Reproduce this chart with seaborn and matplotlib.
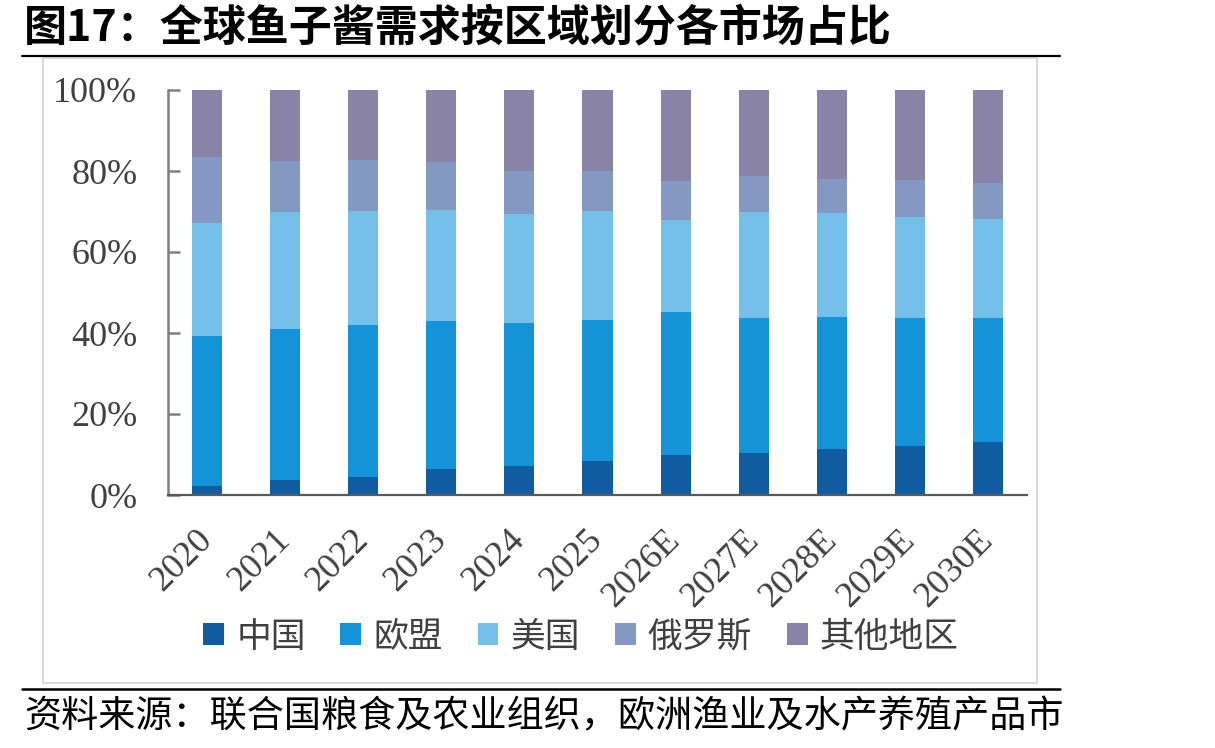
import matplotlib
matplotlib.use("Agg")
import matplotlib.pyplot as plt
from matplotlib.patches import Patch, Rectangle
from matplotlib.lines import Line2D
import numpy as np
import pandas as pd
import seaborn as sns

# ---- data (shares in %) ----
years = ["2020", "2021", "2022", "2023", "2024", "2025",
         "2026E", "2027E", "2028E", "2029E", "2030E"]
china = [2.2, 3.7, 4.4, 6.4, 7.2, 8.4, 9.9, 10.4, 11.4, 12.1, 13.1]
eu = [37.1, 37.3, 37.6, 36.6, 35.3, 34.8, 35.3, 33.3, 32.5, 31.6, 30.6]
usa = [27.9, 28.9, 28.1, 27.4, 26.9, 26.9, 22.7, 26.2, 25.7, 24.9, 24.4]
russia = [16.3, 12.6, 12.6, 11.8, 10.6, 9.9, 9.6, 8.9, 8.4, 9.2, 8.9]
others = [16.5, 17.5, 17.3, 17.8, 20.0, 20.0, 22.5, 21.2, 22.0, 22.2, 23.0]
series_names = ["中国", "欧盟", "美国", "俄罗斯", "其他地区"]
yticks = [0, 20, 40, 60, 80, 100]

title = "图17：全球鱼子酱需求按区域划分各市场占比"
source = "资料来源：联合国粮食及农业组织，欧洲渔业及水产养殖产品市"

colors = ["#105CA1", "#1593D8", "#74C0E8", "#8399C4", "#8983A8"]

sns.set_theme(style="white")
plt.rcParams["font.family"] = ["Liberation Serif", "Noto Sans CJK SC"]

W, H = 1215, 748
fig = plt.figure(figsize=(W / 100, H / 100), dpi=100)

def fx(px):
    return px / W

def fy(py):
    return 1 - py / H

ax = fig.add_axes([fx(168), fy(495), fx(1027) - fx(168), fy(90) - fy(495)])

values = [china, eu, usa, russia, others]
cum = np.cumsum(np.array(values), axis=0)
for i in range(len(series_names) - 1, -1, -1):
    d = pd.DataFrame({"year": years, "value": cum[i]})
    sns.barplot(data=d, x="year", y="value", color=colors[i], width=0.385,
                saturation=1, ax=ax, linewidth=0, errorbar=None)

ax.set_xlim(-0.5, len(years) - 0.5)
ax.set_ylim(0, 100)
ax.set_xlabel("")
ax.set_ylabel("")
ax.set_yticks(yticks)
ax.set_yticklabels([f"{v}%" for v in yticks], fontsize=26, color="#404040",
                   family="Liberation Serif")
ax.set_xticks(range(len(years)))
ax.set_xticklabels(years, fontsize=26, color="#404040", family="Liberation Serif",
                   rotation=45, ha="right", va="center", rotation_mode="anchor")
ax.set_xticks(np.arange(-0.5, len(years), 1.0), minor=True)
ax.tick_params(axis="x", which="major", length=0, pad=29)
ax.tick_params(axis="x", which="minor", direction="in", length=7, width=1.5,
               color="#595959")
ax.tick_params(axis="y", direction="in", length=8.5, width=1.8, color="#7f7f7f",
               pad=22, left=True)
for s in ["top", "right"]:
    ax.spines[s].set_visible(False)
ax.spines["left"].set_color("#7f7f7f")
ax.spines["left"].set_linewidth(1.8)
ax.spines["bottom"].set_color("#595959")
ax.spines["bottom"].set_linewidth(1.6)
ax.grid(False)

# legend
handles = [Patch(facecolor=c, edgecolor="none") for c in colors]
leg = fig.legend(handles, series_names, loc="center", ncol=5,
                 bbox_to_anchor=(fx(581), fy(637)), frameon=False,
                 prop={"family": ["Noto Sans CJK SC"], "size": 25},
                 handlelength=0.6, handleheight=0.6, handletextpad=0.35,
                 columnspacing=1.0)
for t in leg.get_texts():
    t.set_color("#404040")

# outer light frame
fig.add_artist(Rectangle((fx(43), fy(683)), fx(1037) - fx(43), fy(58) - fy(683),
                         transform=fig.transFigure, fill=False,
                         edgecolor="#D9D9D9", linewidth=1.5))
# title, rules, source
fig.text(fx(24), fy(27), title, fontsize=31, fontweight="bold",
         family=["Noto Sans CJK SC"], va="center", ha="left", color="black")
fig.add_artist(Line2D([fx(22), fx(1060)], [fy(55.5), fy(55.5)],
                      transform=fig.transFigure, color="black", linewidth=1.6))
fig.add_artist(Line2D([fx(22), fx(1060)], [fy(689), fy(689)],
                      transform=fig.transFigure, color="black", linewidth=1.8))
fig.text(fx(24), fy(717), source, fontsize=26.7, family=["Noto Sans CJK SC"],
         va="center", ha="left", color="black")

fig.savefig("out.png", dpi=100)
